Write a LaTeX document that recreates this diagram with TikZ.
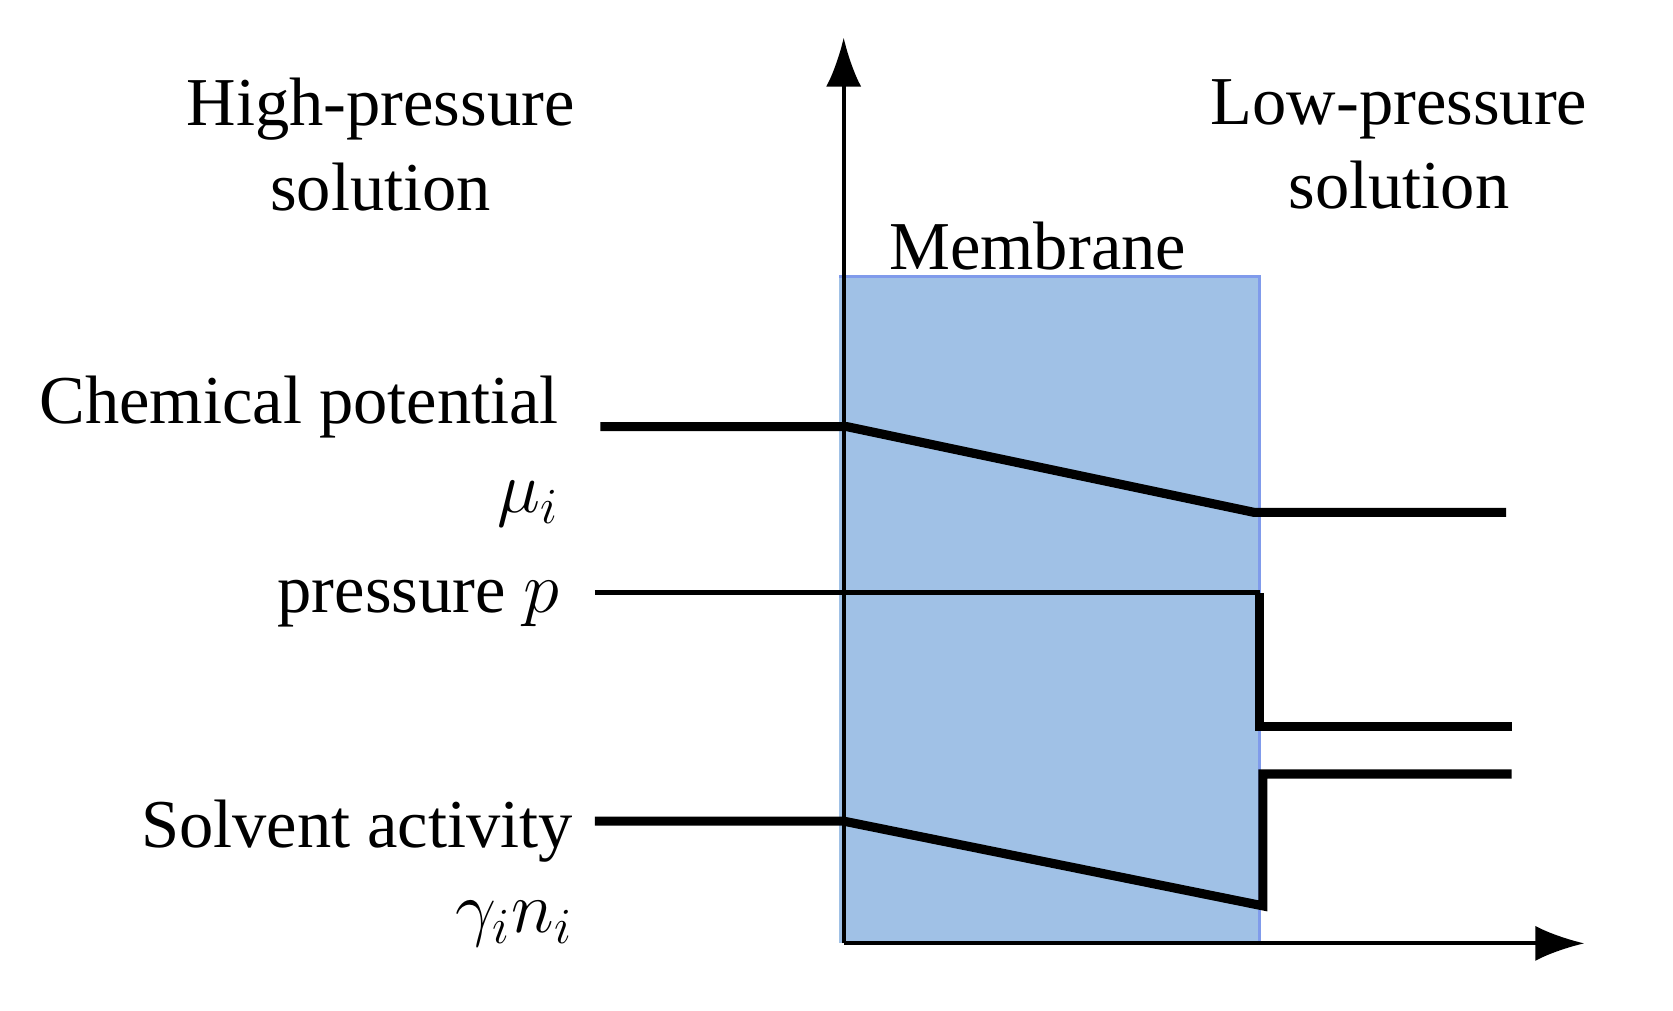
\documentclass[tikz,border=0pt]{standalone}
\usepackage{fontspec}
\setmainfont{Liberation Serif}
\usetikzlibrary{arrows.meta,positioning}
\definecolor{membraneblue}{RGB}{160,193,230}
\begin{document}
\begin{tikzpicture}[
    x=0.01072cm, y=-0.01072cm,
    label/.style = {font=\fontsize{19.5}{24}\selectfont, inner sep=0},
    axis/.style = {line width=1.1pt, -{Latex[length=14pt,width=10pt]}},
    profile/.style = {line width=2.6pt, line join=miter}
  ]
  \useasboundingbox (0,0) rectangle (1560.6,943.1);
  % membrane
  \fill[membraneblue] (783,258) rectangle (1175,880);
  \draw[line width=0.8pt, membraneblue!80!blue] (783,258) -- (1175,258) -- (1175,880);

  % axes
  \coordinate (o) at (787,880);
  \coordinate (ytop) at (787,35);
  \coordinate (xend) at (1478,880);
  \draw[axis] (o) -- (ytop);
  \draw[axis] (o) -- (xend);

  % labels
  \node[label, align=center] (hp) at (355,135) {High-pressure\\solution};
  \node[label, align=center] (lp) at (1305,135) {Low-pressure\\solution};
  \node[label] (mem) at (968,230) {Membrane};
  \node[label, anchor=east] (chem) at (522,380) {Chemical potential};
  \node[label, anchor=east] (mu) at (522,470) {$\mu_i$};
  \node[label, anchor=east] (pres) at (522,563) {pressure $p$};
  \node[label, anchor=east] (solv) at (535,775) {Solvent activity};
  \node[label, anchor=east] (act) at (535,862) {$\gamma_i n_i$};

  % chemical potential
  \coordinate (c1) at (560,398);
  \coordinate (c2) at (790,398);
  \coordinate (c3) at (1170,478);
  \coordinate (c4) at (1405,478);
  \draw[profile] (c1) -- (c2) -- (c3) -- (c4);

  % pressure
  \coordinate (p1) at (555,553);
  \coordinate (p2) at (1175,553);
  \coordinate (p3) at (1175,678);
  \coordinate (p4) at (1410,678);
  \draw[line width=1.4pt] (p1) -- (p2);
  \draw[profile] (p2) -- (p3) -- (p4);

  % solvent activity
  \coordinate (s1) at (555,766);
  \coordinate (s2) at (787,766);
  \coordinate (s3) at (1178,845);
  \coordinate (s4) at (1178,722);
  \coordinate (s5) at (1410,722);
  \draw[profile] (s1) -- (s2) -- (s3) -- (s4) -- (s5);
\end{tikzpicture}
\end{document}
